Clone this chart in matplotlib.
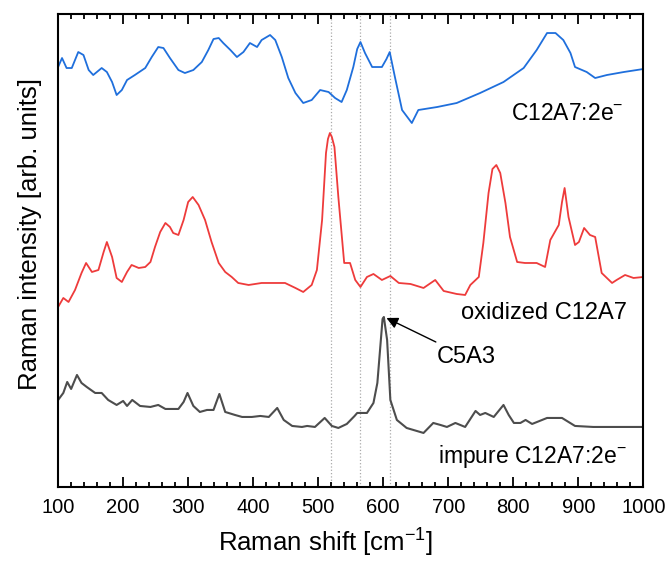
import matplotlib
matplotlib.use('Agg')
import matplotlib.pyplot as plt
from matplotlib.ticker import MultipleLocator

plt.rcParams['font.family'] = ['Liberation Sans', 'DejaVu Sans']
plt.rcParams['mathtext.fontset'] = 'custom'
plt.rcParams['mathtext.rm'] = 'Liberation Sans'
plt.rcParams['mathtext.default'] = 'regular'

# Spectra (intensity in arbitrary units, already offset)
blue_x = [100, 106, 113, 121, 131, 139, 147, 154, 167, 175, 183, 190, 198, 206, 218, 234,
          244, 254, 262, 272, 285, 295, 308, 321, 331, 339, 347, 354, 365, 375, 385, 395,
          406, 413, 426, 434, 444, 454, 465, 477, 490, 503, 516, 526, 536, 544, 554, 560,
          565, 572, 583, 598, 605, 610, 618, 629, 644, 654, 683, 713, 749, 785, 816, 836,
          852, 865, 877, 888, 895, 913, 926, 944, 970, 1000]
blue_y = [420, 429, 419, 419, 435, 432, 417, 412, 419, 415, 405, 392, 397, 407, 412, 419,
          430, 440, 439, 429, 417, 414, 417, 425, 437, 448, 449, 444, 437, 430, 435, 444,
          440, 447, 452, 447, 430, 409, 394, 384, 387, 397, 395, 389, 385, 397, 420, 438,
          445, 434, 420, 420, 428, 435, 410, 377, 364, 377, 380, 384, 394, 405, 419, 437,
          454, 454, 447, 434, 420, 415, 409, 412, 415, 418]

red_x = [100, 108, 116, 126, 136, 143, 152, 162, 170, 175, 183, 190, 198, 206, 213, 224,
         234, 242, 249, 257, 265, 272, 277, 285, 293, 300, 307, 316, 326, 336, 347, 357,
         367, 377, 393, 413, 434, 449, 465, 477, 490, 498, 506, 512, 515, 518, 521, 525,
         531, 540, 549, 557, 565, 575, 585, 598, 611, 624, 642, 662, 680, 693, 713, 726,
         734, 747, 754, 762, 768, 774, 780, 788, 795, 806, 818, 836, 849, 857, 870, 875,
         879, 885, 895, 901, 909, 918, 926, 936, 952, 959, 972, 985, 1000]
red_y = [180, 189, 185, 197, 214, 224, 215, 217, 235, 245, 230, 209, 205, 215, 222, 219,
         220, 225, 240, 255, 264, 260, 254, 252, 267, 285, 290, 282, 267, 245, 224, 215,
         210, 204, 202, 204, 204, 204, 199, 195, 202, 217, 267, 334, 348, 354, 350, 340,
         290, 224, 224, 207, 200, 210, 213, 207, 211, 204, 203, 199, 207, 196, 193, 192,
         202, 210, 244, 294, 318, 322, 314, 284, 250, 225, 224, 224, 220, 247, 262, 285,
         299, 270, 242, 245, 259, 252, 250, 214, 204, 207, 212, 209, 210]

gray_x = [100, 108, 114, 120, 129, 136, 144, 157, 167, 177, 190, 200, 206, 214, 226, 242,
          254, 265, 285, 293, 299, 308, 318, 329, 339, 348, 357, 372, 383, 398, 411, 424,
          437, 447, 460, 475, 483, 495, 510, 521, 531, 544, 556, 560, 575, 585, 591, 596,
          599, 601, 606, 611, 621, 636, 662, 677, 688, 698, 711, 726, 742, 749, 757, 770,
          785, 793, 801, 811, 819, 829, 852, 875, 895, 923, 954, 1000]
gray_y = [87, 94, 105, 98, 112, 104, 100, 94, 94, 87, 82, 86, 81, 87, 81, 80,
          82, 78, 78, 85, 94, 81, 75, 77, 77, 93, 75, 72, 70, 70, 71, 70,
          79, 67, 61, 60, 61, 60, 69, 61, 59, 63, 71, 74, 74, 84, 104, 144,
          168, 170, 147, 87, 67, 59, 54, 64, 62, 60, 64, 60, 76, 72, 74, 70,
          82, 72, 64, 64, 67, 63, 69, 69, 61, 60, 60, 60]

guide_lines = [519, 565, 610]

fig = plt.figure(figsize=(6.68, 5.61), dpi=100)
ax = fig.add_axes([0.087, 0.132, 0.876, 0.843])

for x in guide_lines:
    ax.axvline(x, color='#aaaaaa', linestyle=':', linewidth=0.9, zorder=1)

ax.plot(blue_x, blue_y, color='#1f6fdc', linewidth=1.3)
ax.plot(red_x, red_y, color='#ee3b3b', linewidth=1.3)
ax.plot(gray_x, gray_y, color='#4d4d4d', linewidth=1.5)

ax.set_xlim(100, 1000)
ax.set_ylim(0, 473)
ax.set_yticks([])
ax.xaxis.set_major_locator(MultipleLocator(100))
ax.xaxis.set_minor_locator(MultipleLocator(20))
ax.tick_params(axis='x', which='both', direction='in', top=True, width=1.3, labelsize=14.5, pad=8)
ax.tick_params(axis='x', which='major', length=7)
ax.tick_params(axis='x', which='minor', length=3.5)
for s in ax.spines.values():
    s.set_linewidth(1.5)

ax.text(969, 374, 'C12A7:2e$^{-}$', fontsize=16.5, ha='right', va='center')
ax.text(975, 174, 'oxidized C12A7', fontsize=17, ha='right', va='center')
ax.text(975, 30, 'impure C12A7:2e$^{-}$', fontsize=16.5, ha='right', va='center')
ax.annotate('C5A3', xy=(605, 169), xytext=(683, 130), fontsize=17, ha='left', va='center',
            arrowprops=dict(arrowstyle='-|>', color='black', lw=1, shrinkA=2, shrinkB=0))

fig.text(0.487, 0.016, 'Raman shift [cm$^{-1}$]', fontsize=18.5, ha='center', va='baseline')
fig.text(0.045, 0.583, 'Raman intensity [arb. units]', fontsize=18.5, rotation=90,
         ha='center', va='center')

fig.savefig('out.png', dpi=100)
